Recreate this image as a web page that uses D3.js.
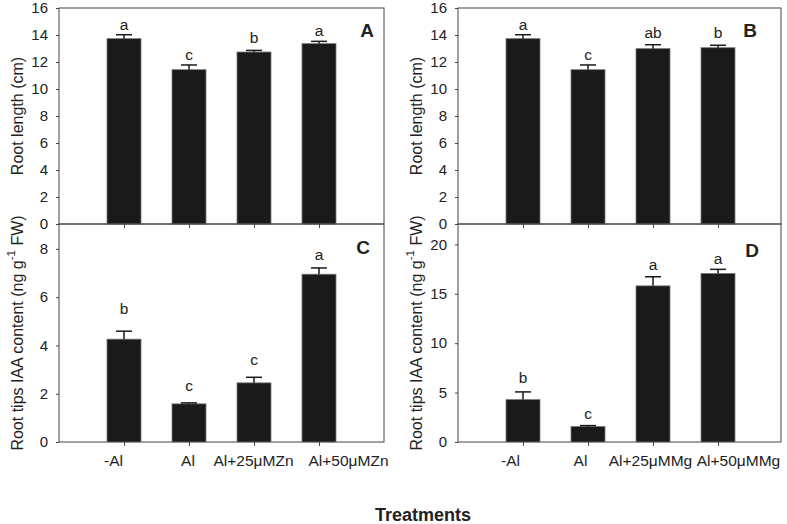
<!DOCTYPE html>
<html><head><meta charset="utf-8">
<script src="https://cdn.jsdelivr.net/npm/d3@7"></script>
<style>body{margin:0;background:#fff}svg{display:block;font-family:"Liberation Sans",Arial,sans-serif}</style>
</head><body>
<svg id="c" width="787" height="524"></svg>
<script>
// ---- data ----
const catsZn = ["-Al", "Al", "Al+25μMZn", "Al+50μMZn"];
const catsMg = ["-Al", "Al", "Al+25μMMg", "Al+50μMMg"];
const lenA = [13.73, 11.43, 12.74, 13.36];
const errA = [0.29, 0.35, 0.12, 0.17];
const letA = ["a", "c", "b", "a"];
const letAy = [14.81, 12.59, 13.78, 14.32];
const lenB = [13.73, 11.43, 12.99, 13.06];
const errB = [0.29, 0.35, 0.29, 0.18];
const letB = ["a", "c", "ab", "b"];
const letBy = [14.81, 12.59, 14.2, 14.2];
const iaaC = [4.26, 1.58, 2.45, 6.95];
const errC = [0.33, 0.04, 0.23, 0.26];
const letC = ["b", "c", "c", "a"];
const letCy = [5.51, 2.34, 3.43, 7.75];
const iaaD = [4.29, 1.56, 15.8, 17.06];
const errD = [0.78, 0.1, 0.92, 0.41];
const letD = ["b", "c", "a", "a"];
const letDy = [6.48, 2.88, 18.0, 18.58];
const ticksLen = [0, 2, 4, 6, 8, 10, 12, 14, 16];
const ticksC = [0, 2, 4, 6, 8];
const ticksD = [0, 5, 10, 15, 20];

const svg = d3.select("#c");
const TXT = "#222";
const FONT = "Liberation Sans, Arial, sans-serif";

function panel(o) {
  const g = svg.append("g");
  const x = d3.scaleLinear().domain([0, 5]).range([o.x0, o.x0 + 325]);
  const y = d3.scaleLinear().domain([0, o.ymax]).range([o.y1, o.y0]);
  g.append("rect").attr("x", o.x0).attr("y", o.y0).attr("width", o.x1 - o.x0).attr("height", o.y1 - o.y0)
    .attr("fill", "none").attr("stroke", "#444").attr("stroke-width", 1);
  const bw = 34;
  o.vals.forEach((v, i) => {
    const cx = x(i + 1);
    g.append("rect").attr("x", cx - bw / 2).attr("y", y(v)).attr("width", bw).attr("height", y(0) - y(v))
      .attr("fill", "#1a1a1a").attr("stroke", "#777").attr("stroke-width", 0.8);
    const et = y(v + o.errs[i]);
    g.append("line").attr("x1", cx).attr("x2", cx).attr("y1", y(v)).attr("y2", et).attr("stroke", "#1a1a1a").attr("stroke-width", 1.5);
    g.append("line").attr("x1", cx - 8).attr("x2", cx + 8).attr("y1", et).attr("y2", et).attr("stroke", "#1a1a1a").attr("stroke-width", 1.5);
    g.append("text").attr("x", cx).attr("y", y(o.letY[i])).attr("text-anchor", "middle").attr("dominant-baseline", "central")
      .attr("font-size", 15.5).attr("fill", TXT).text(o.lets[i]);
  });
  const ya = g.append("g").attr("transform", `translate(${o.x0},0)`)
    .call(d3.axisLeft(y).tickValues(o.ticks).tickSize(3).tickPadding(8).tickFormat(d3.format("d")));
  ya.select(".domain").remove();
  ya.selectAll("line").attr("stroke", "#444");
  ya.selectAll("text").attr("font-size", 15).attr("fill", TXT).attr("font-family", FONT);
  const xa = g.append("g").attr("transform", `translate(0,${o.y1})`)
    .call(d3.axisBottom(x).tickValues([1, 2, 3, 4]).tickSize(4).tickPadding(9).tickFormat(d => o.cats ? o.cats[d - 1] : ""));
  xa.select(".domain").remove();
  xa.selectAll("line").attr("stroke", "#444");
  xa.selectAll("text").attr("font-size", 15.5).attr("fill", TXT).attr("font-family", FONT)
    .attr("dx", (d, i) => o.shift ? o.shift[i] : 0);
  g.append("text").attr("x", o.x0 + o.lx).attr("y", o.y0 + o.ly).attr("text-anchor", "middle").attr("dominant-baseline", "central")
    .attr("font-size", 19).attr("font-weight", "bold").attr("fill", TXT).text(o.label);
  const t = g.append("text").attr("transform", `translate(${o.x0 - 42},${(o.y0 + o.y1) / 2}) rotate(-90)`)
    .attr("text-anchor", "middle").attr("dominant-baseline", "central").attr("font-size", 16).attr("fill", TXT);
  if (o.iaa) {
    t.append("tspan").text("Root tips IAA content (ng g");
    t.append("tspan").attr("font-size", 11.5).attr("dy", -6).text("-1");
    t.append("tspan").attr("dy", 6).text(" FW)");
  } else {
    t.text("Root length (cm)");
  }
}

panel({x0: 59, x1: 384, y0: 8, y1: 224, ymax: 16, vals: lenA, errs: errA, lets: letA, letY: letAy, ticks: ticksLen, label: "A", lx: 308, ly: 22});
panel({x0: 458, x1: 781, y0: 8, y1: 224, ymax: 16, vals: lenB, errs: errB, lets: letB, letY: letBy, ticks: ticksLen, label: "B", lx: 292, ly: 22});
panel({x0: 59, x1: 384, y0: 224, y1: 442, ymax: 9.03, vals: iaaC, errs: errC, lets: letC, letY: letCy, ticks: ticksC, label: "C", lx: 304, ly: 23, cats: catsZn, shift: [-11, -1.5, -1, 29], iaa: true});
panel({x0: 458, x1: 781, y0: 224, y1: 442, ymax: 22.06, vals: iaaD, errs: errD, lets: letD, letY: letDy, ticks: ticksD, label: "D", lx: 294, ly: 26, cats: catsMg, shift: [-13, -8, -3, 20], iaa: true});

svg.append("text").attr("x", 423).attr("y", 515).attr("text-anchor", "middle").attr("dominant-baseline", "central")
  .attr("font-size", 18).attr("font-weight", "bold").attr("fill", TXT).text("Treatments");
</script>
</body></html>
